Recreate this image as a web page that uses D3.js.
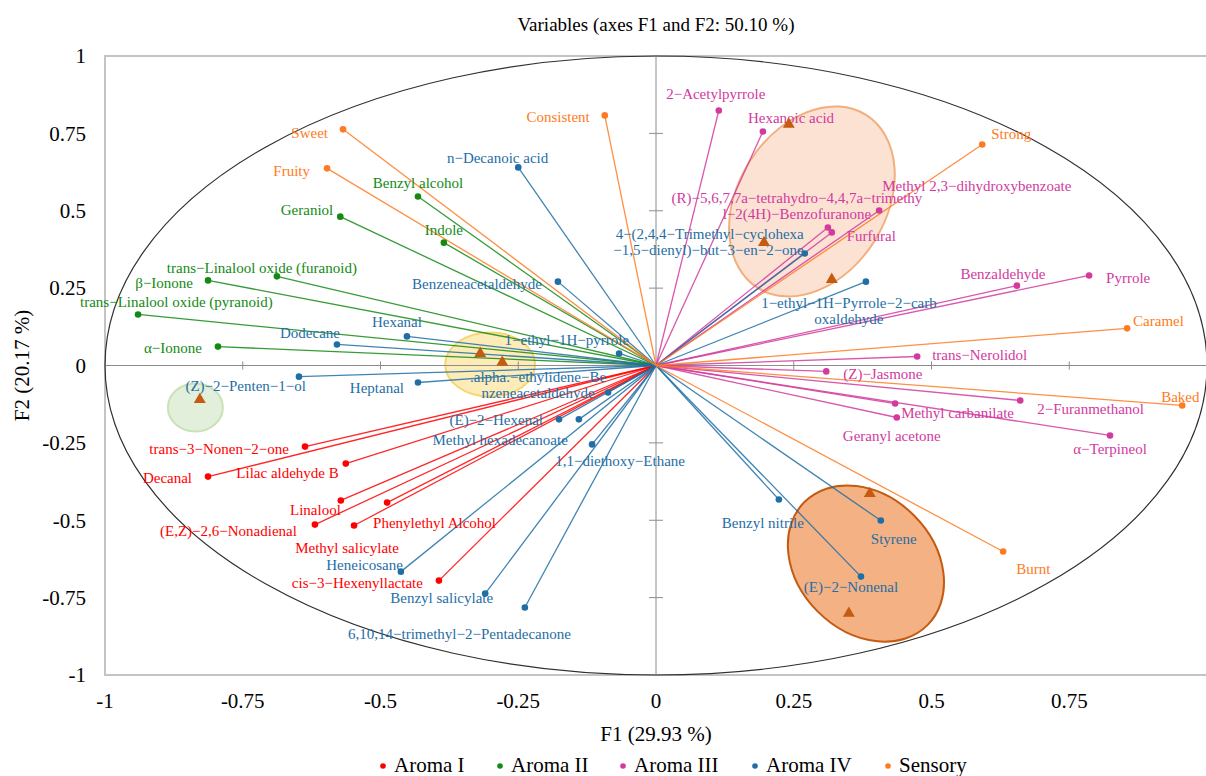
<!DOCTYPE html>
<html>
<head>
<meta charset="utf-8">
<script src="https://cdn.jsdelivr.net/npm/d3@7"></script>
<style>
  body { margin: 0; background: #fff; }
  svg { display: block; }
</style>
</head>
<body>
<svg id="chart" width="1206" height="776" font-family="'Liberation Serif', 'Times New Roman', 'DejaVu Serif', serif"></svg>
<script>
// Loadings on F1 / F2 for each variable group
const aromaI = [
  { name: "trans−3−Nonen−2−one", f1: -0.637, f2: -0.262 },
  { name: "Decanal", f1: -0.813, f2: -0.359 },
  { name: "Lilac aldehyde B", f1: -0.563, f2: -0.317 },
  { name: "Linalool", f1: -0.572, f2: -0.436 },
  { name: "(E,Z)−2,6−Nonadienal", f1: -0.619, f2: -0.514 },
  { name: "Methyl salicylate", f1: -0.548, f2: -0.517 },
  { name: "Phenylethyl Alcohol", f1: -0.488, f2: -0.443 },
  { name: "cis−3−Hexenyllactate", f1: -0.394, f2: -0.695 }
];
const aromaII = [
  { name: "Geraniol", f1: -0.573, f2: 0.481 },
  { name: "Benzyl alcohol", f1: -0.432, f2: 0.546 },
  { name: "Indole", f1: -0.385, f2: 0.397 },
  { name: "trans−Linalool oxide (furanoid)", f1: -0.688, f2: 0.288 },
  { name: "β−Ionone", f1: -0.813, f2: 0.275 },
  { name: "trans−Linalool oxide (pyranoid)", f1: -0.940, f2: 0.165 },
  { name: "α−Ionone", f1: -0.795, f2: 0.061 }
];
const aromaIII = [
  { name: "2−Acetylpyrrole", f1: 0.114, f2: 0.824 },
  { name: "Hexanoic acid", f1: 0.194, f2: 0.756 },
  { name: "Methyl 2,3−dihydroxybenzoate", f1: 0.405, f2: 0.501 },
  { name: "(R)−5,6,7,7a−tetrahydro−4,4,7a−trimethyl−2(4H)−Benzofuranone", f1: 0.312, f2: 0.446 },
  { name: "Furfural", f1: 0.319, f2: 0.430 },
  { name: "Benzaldehyde", f1: 0.655, f2: 0.258 },
  { name: "Pyrrole", f1: 0.786, f2: 0.291 },
  { name: "trans−Nerolidol", f1: 0.474, f2: 0.029 },
  { name: "(Z)−Jasmone", f1: 0.309, f2: -0.019 },
  { name: "2−Furanmethanol", f1: 0.661, f2: -0.113 },
  { name: "Methyl carbanilate", f1: 0.434, f2: -0.123 },
  { name: "Geranyl acetone", f1: 0.437, f2: -0.168 },
  { name: "α−Terpineol", f1: 0.824, f2: -0.226 }
];
const aromaIV = [
  { name: "Dodecane", f1: -0.579, f2: 0.068 },
  { name: "(Z)−2−Penten−1−ol", f1: -0.648, f2: -0.036 },
  { name: "n−Decanoic acid", f1: -0.250, f2: 0.640 },
  { name: "Benzeneacetaldehyde", f1: -0.178, f2: 0.271 },
  { name: "Hexanal", f1: -0.452, f2: 0.094 },
  { name: "1−ethyl−1H−pyrrole", f1: -0.067, f2: 0.039 },
  { name: "Heptanal", f1: -0.432, f2: -0.055 },
  { name: ".alpha.−ethylidene−Benzeneacetaldehyde", f1: -0.087, f2: -0.087 },
  { name: "(E)−2−Hexenal", f1: -0.176, f2: -0.174 },
  { name: "Methyl hexadecanoate", f1: -0.140, f2: -0.174 },
  { name: "1,1−diethoxy−Ethane", f1: -0.116, f2: -0.255 },
  { name: "Heneicosane", f1: -0.463, f2: -0.666 },
  { name: "Benzyl salicylate", f1: -0.310, f2: -0.737 },
  { name: "6,10,14−trimethyl−2−Pentadecanone", f1: -0.238, f2: -0.782 },
  { name: "Benzyl nitrile", f1: 0.223, f2: -0.433 },
  { name: "Styrene", f1: 0.408, f2: -0.501 },
  { name: "(E)−2−Nonenal", f1: 0.372, f2: -0.682 },
  { name: "4−(2,4,4−Trimethyl−cyclohexa−1,5−dienyl)−but−3−en−2−one", f1: 0.270, f2: 0.362 },
  { name: "1−ethyl−1H−Pyrrole−2−carboxaldehyde", f1: 0.381, f2: 0.271 }
];
const sensory = [
  { name: "Sweet", f1: -0.568, f2: 0.763 },
  { name: "Fruity", f1: -0.597, f2: 0.637 },
  { name: "Consistent", f1: -0.093, f2: 0.808 },
  { name: "Strong", f1: 0.592, f2: 0.714 },
  { name: "Caramel", f1: 0.855, f2: 0.120 },
  { name: "Baked", f1: 0.955, f2: -0.129 },
  { name: "Burnt", f1: 0.630, f2: -0.601 }
];

// Sample scores shown as triangles
const samples = [
  { f1: -0.319, f2: 0.039 }, { f1: -0.279, f2: 0.010 },
  { f1: -0.828, f2: -0.110 },
  { f1: 0.241, f2: 0.779 }, { f1: 0.196, f2: 0.397 }, { f1: 0.319, f2: 0.278 },
  { f1: 0.388, f2: -0.414 }, { f1: 0.350, f2: -0.801 }
];
// Sample cluster centres
const clusters = [
  { f1: -0.301, f2: 0.003 },
  { f1: -0.836, f2: -0.136 },
  { f1: 0.283, f2: 0.530 },
  { f1: 0.381, f2: -0.640 }
];

const seriesNames = ["Aroma I", "Aroma II", "Aroma III", "Aroma IV", "Sensory"];
const tickValues = [-1, -0.75, -0.5, -0.25, 0, 0.25, 0.5, 0.75, 1];
const tickLabels = ["-1", "-0.75", "-0.5", "-0.25", "0", "0.25", "0.5", "0.75", "1"];

// ---- styling / layout ----
const colors = ["#ff0000", "#138a13", "#d23a9e", "#1f6ea5", "#ff7b22"];
const clusterStyle = [
  { rx: 45, ry: 32, rot: 0, fill: "#fdebb8", stroke: "#f8d56e" },
  { rx: 27.5, ry: 24, rot: 0, fill: "#e2efda", stroke: "#c9e2b6" },
  { rx: 102, ry: 74, rot: -58, fill: "#fbe2d3", stroke: "#f2ae7c" },
  { rx: 87, ry: 68, rot: 45, fill: "#f4b183", stroke: "#c55a11" }
];
// label placement: [anchor, dx, dy, optional line split]
const labelPlace = {
  "Sweet": ["end", -15, 3], "Fruity": ["end", -17, 2], "Consistent": ["end", -15, 1],
  "Strong": ["start", 9, -11], "Caramel": ["start", 6, -8], "Baked": ["start", -21, -9],
  "Burnt": ["start", 13, 17],
  "Geraniol": ["end", -7, -7], "Benzyl alcohol": ["middle", 0, -14], "Indole": ["middle", 0, -13],
  "trans−Linalool oxide (furanoid)": ["middle", -15, -9], "β−Ionone": ["end", -15, 2],
  "trans−Linalool oxide (pyranoid)": ["start", -58, -13], "α−Ionone": ["end", -16, 1],
  "Dodecane": ["end", 3, -12], "(Z)−2−Penten−1−ol": ["end", 7, 9],
  "n−Decanoic acid": ["end", 30, -10], "Benzeneacetaldehyde": ["end", -16, 2],
  "Hexanal": ["end", 15, -15], "1−ethyl−1H−pyrrole": ["end", 10, -14], "Heptanal": ["end", -14, 5],
  ".alpha.−ethylidene−Benzeneacetaldehyde": ["middle", -70, -16, [".alpha.−ethylidene−Be", "nzeneacetaldehyde"]],
  "(E)−2−Hexenal": ["end", -16, 0], "Methyl hexadecanoate": ["end", -11, 20],
  "1,1−diethoxy−Ethane": ["middle", 28, 16], "Heneicosane": ["end", 2, -7],
  "Benzyl salicylate": ["end", 8, 4], "6,10,14−trimethyl−2−Pentadecanone": ["end", 46, 26],
  "Benzyl nitrile": ["middle", -16, 23], "Styrene": ["start", -10, 18], "(E)−2−Nonenal": ["middle", -10, 10],
  "4−(2,4,4−Trimethyl−cyclohexa−1,5−dienyl)−but−3−en−2−one": ["end", -1, -20, ["4−(2,4,4−Trimethyl−cyclohexa", "−1,5−dienyl)−but−3−en−2−one"]],
  "1−ethyl−1H−Pyrrole−2−carboxaldehyde": ["middle", -17, 21, ["1−ethyl−1H−Pyrrole−2−carb", "oxaldehyde"]],
  "2−Acetylpyrrole": ["middle", -3, -17], "Hexanoic acid": ["start", -15, -14],
  "Methyl 2,3−dihydroxybenzoate": ["start", 3, -25],
  "(R)−5,6,7,7a−tetrahydro−4,4,7a−trimethyl−2(4H)−Benzofuranone": ["middle", -31, -30, ["(R)−5,6,7,7a−tetrahydro−4,4,7a−trimethy", "l−2(4H)−Benzofuranone"]],
  "Furfural": ["start", 15, 3], "Benzaldehyde": ["middle", -14, -12], "Pyrrole": ["start", 17, 2],
  "trans−Nerolidol": ["start", 15, -2], "(Z)−Jasmone": ["start", 17, 2],
  "2−Furanmethanol": ["start", 17, 8], "Methyl carbanilate": ["start", 6, 9],
  "Geranyl acetone": ["middle", -5, 18], "α−Terpineol": ["middle", 0, 13],
  "trans−3−Nonen−2−one": ["end", -16, 2], "Decanal": ["end", -16, 1],
  "Lilac aldehyde B": ["end", -7, 9], "Linalool": ["end", 0, 9],
  "(E,Z)−2,6−Nonadienal": ["end", -18, 6], "Methyl salicylate": ["middle", -7, 22],
  "Phenylethyl Alcohol": ["start", -14, 20], "cis−3−Hexenyllactate": ["end", -16, 2]
};

const svg = d3.select("#chart");
const x = d3.scaleLinear().domain([-1, 1]).range([105, 1207]);
const y = d3.scaleLinear().domain([-1, 1]).range([675, 56]);
const groups = [aromaI, aromaII, aromaIII, aromaIV, sensory];

// title
svg.append("text").attr("x", 656).attr("y", 31).attr("text-anchor", "middle")
  .attr("font-size", 19).attr("fill", "#000").text("Variables (axes F1 and F2: 50.10 %)");

// cluster ellipses
svg.append("g").selectAll("ellipse").data(clusters).join("ellipse")
  .attr("transform", (d, i) => `translate(${x(d.f1)},${y(d.f2)}) rotate(${clusterStyle[i].rot})`)
  .attr("rx", (d, i) => clusterStyle[i].rx).attr("ry", (d, i) => clusterStyle[i].ry)
  .attr("fill", (d, i) => clusterStyle[i].fill).attr("stroke", (d, i) => clusterStyle[i].stroke)
  .attr("stroke-width", 2);

// zero axes with cross ticks
const axG = svg.append("g").attr("stroke", "#8c8c8c").attr("stroke-width", 1);
axG.append("line").attr("x1", x(-1)).attr("x2", x(1)).attr("y1", y(0)).attr("y2", y(0));
axG.append("line").attr("x1", x(0)).attr("x2", x(0)).attr("y1", y(-1)).attr("y2", y(1));
axG.selectAll(".ty").data(tickValues.filter(v => v !== 0 && Math.abs(v) !== 1)).join("line")
  .attr("x1", x(0) - 7).attr("x2", x(0) + 7).attr("y1", d => y(d)).attr("y2", d => y(d));
axG.selectAll(".tx").data(tickValues.filter(v => v !== 0 && Math.abs(v) !== 1)).join("line")
  .attr("y1", y(0) - 4).attr("y2", y(0) + 4).attr("x1", d => x(d)).attr("x2", d => x(d));

// plot frame
svg.append("rect").attr("x", x(-1)).attr("y", y(1)).attr("width", x(1) - x(-1)).attr("height", y(-1) - y(1))
  .attr("fill", "none").attr("stroke", "#c4c4c4").attr("stroke-width", 2);

// correlation circle
svg.append("ellipse").attr("cx", x(0)).attr("cy", y(0))
  .attr("rx", x(1) - x(0)).attr("ry", y(0) - y(1))
  .attr("fill", "none").attr("stroke", "#303030").attr("stroke-width", 1.2);

// tick labels
svg.append("g").selectAll("text").data(tickValues).join("text")
  .attr("x", 86).attr("y", d => y(d)).attr("dy", "0.35em").attr("text-anchor", "end")
  .attr("font-size", 21).attr("fill", "#000").text((d, i) => tickLabels[i]);
svg.append("g").selectAll("text").data(tickValues.slice(0, -1)).join("text")
  .attr("x", d => x(d)).attr("y", 708).attr("text-anchor", "middle")
  .attr("font-size", 21).attr("fill", "#000").text((d, i) => tickLabels[i]);

// axis titles
svg.append("text").attr("x", 656).attr("y", 741).attr("text-anchor", "middle")
  .attr("font-size", 21).attr("fill", "#000").text("F1 (29.93 %)");
svg.append("text").attr("transform", `translate(29,${y(0)}) rotate(-90)`).attr("text-anchor", "middle")
  .attr("font-size", 21).attr("fill", "#000").text("F2 (20.17 %)");

// loading vectors
groups.forEach((g, gi) => {
  svg.append("g").selectAll("line").data(g).join("line")
    .attr("x1", x(0)).attr("y1", y(0)).attr("x2", d => x(d.f1)).attr("y2", d => y(d.f2))
    .attr("stroke", colors[gi]).attr("stroke-width", 1.3).attr("stroke-opacity", 0.85);
});
groups.forEach((g, gi) => {
  svg.append("g").selectAll("circle").data(g).join("circle")
    .attr("cx", d => x(d.f1)).attr("cy", d => y(d.f2)).attr("r", 3.3).attr("fill", colors[gi]);
});

// variable labels
groups.forEach((g, gi) => {
  const lg = svg.append("g").attr("font-size", 15).attr("fill", colors[gi]);
  g.forEach(d => {
    const p = labelPlace[d.name];
    const lines = p[3] || [d.name];
    const t = lg.append("text").attr("text-anchor", p[0]);
    lines.forEach((ln, k) => {
      t.append("tspan").attr("x", x(d.f1) + p[1]).attr("y", y(d.f2) + p[2] + k * 16)
        .attr("dy", "0.35em").text(ln);
    });
  });
});

// sample triangles
svg.append("g").selectAll("path").data(samples).join("path")
  .attr("transform", d => `translate(${x(d.f1)},${y(d.f2)})`)
  .attr("d", d3.symbol(d3.symbolTriangle, 62)).attr("fill", "#c55a11");

// legend
const legendX = [383, 500, 623, 755, 888];
const lg = svg.append("g");
seriesNames.forEach((s, i) => {
  lg.append("circle").attr("cx", legendX[i]).attr("cy", 766).attr("r", 2.8).attr("fill", colors[i]);
  lg.append("text").attr("x", legendX[i] + 11).attr("y", 772).attr("font-size", 21)
    .attr("fill", "#000").text(s);
});
</script>
</body>
</html>
